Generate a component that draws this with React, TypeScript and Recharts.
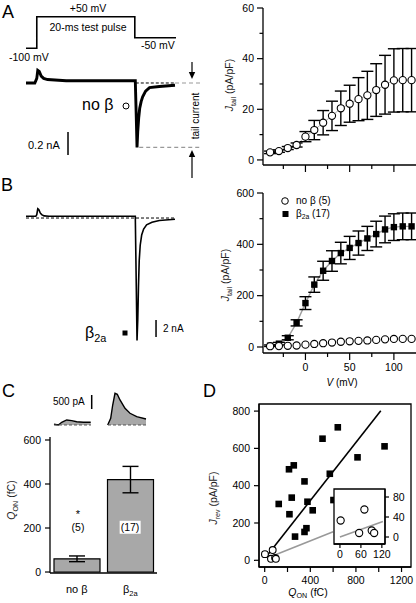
import React from "react";
import {
  ComposedChart,
  BarChart,
  Bar,
  Line,
  Area,
  Scatter,
  XAxis,
  YAxis,
  ErrorBar,
  ReferenceLine,
  ReferenceArea,
} from "recharts";

const FONT = "'Liberation Sans', Arial, Helvetica, sans-serif";

// A / B right: tail current density vs test potential
const voltages = [-40, -30, -20, -10, 0, 10, 20, 30, 40, 50, 60, 70, 80, 90, 100, 110, 120];
const noBetaJ = [3.0, 3.5, 4.7, 5.9, 9.2, 11.8, 14.7, 17.4, 20.4, 22.2, 24.0, 25.5, 27.6, 29.7, 31.4, 31.5, 31.5];
const noBetaErr = [0.5, 0.5, 0.6, 0.8, 2.0, 3.8, 4.8, 5.8, 6.8, 7.3, 8.5, 9.5, 10.4, 11.6, 12.5, 12.5, 12.5];
const b2aJ = [5, 13, 36, 94, 171, 243, 297, 335, 366, 386, 405, 423, 440, 458, 467, 470, 470];
const b2aErr = [3, 5, 8, 12, 25, 30, 37, 40, 42, 45, 47, 47, 50, 52, 52, 52, 52];

// A / B left: voltage protocol (ms, mV) and example currents (ms, nA)
const protocolT = [-2.2, 0, 20, 28.4];
const protocolV = [-100, 50, -50, -50];
const traceAT = [-2.2, -0.4, 0, 0.2, 0.5, 0.9, 1.4, 2.2, 6, 12, 17, 20.1, 20.3, 20.45, 20.6, 20.8, 21.0, 21.3, 21.6, 22.2, 23.0, 25.0, 28.2];
const traceAI = [0, 0, 0.04, 0.11, 0.1, 0.06, 0.04, 0.03, 0.02, 0.02, 0.02, 0.02, -0.3, -0.56, -0.42, -0.3, -0.22, -0.16, -0.12, -0.07, -0.04, -0.03, -0.02];
const traceBT = [-2.2, -0.2, 0, 0.2, 0.4, 0.7, 1.0, 1.5, 2.5, 10, 20.1, 20.3, 20.45, 20.6, 20.75, 20.9, 21.1, 21.4, 21.8, 22.4, 23.5, 25, 28.2];
const traceBI = [0.2, 0.2, 0.4, 1.1, 1.0, 0.6, 0.4, 0.25, 0.2, 0.2, 0.2, -8, -14.4, -12, -8, -5, -3.2, -2.0, -1.3, -0.8, -0.5, -0.3, -0.15];

// C: gating charge
const groups = ["noB", "b2a"];
const qonMean = [60, 420];
const qonSem = [13, 60];
const gateNoBetaT = [0.4, 0.83, 1.17, 1.67, 2.17, 2.67, 3.33, 4.07];
const gateNoBetaI = [25, 0, 96, 179, 154, 118, 96, 96];
const gateB2aT = [5.77, 6.07, 6.27, 6.5, 6.73, 7.0, 7.5, 8.0, 8.67, 9.6];
const gateB2aI = [0, 239, 714, 1131, 1096, 893, 596, 418, 296, 214];

// D: Jrev vs Qon
const qonB2a = [123, 213, 255, 237, 217, 266, 349, 375, 421, 366, 349, 507, 571, 641, 814, 1051, 603];
const jrevB2a = [302, 488, 509, 336, 247, 127, 423, 314, 268, 172, 152, 652, 464, 713, 552, 611, 323];
const qonNoBeta = [2, 70, 55, 91, 98];
const jrevNoBeta = [33, 55, 8, 13, 8];
const fitB2aX = [15, 1018];
const fitB2aY = [20, 802];
const fitNoBetaX = [40, 600];
const fitNoBetaY = [16, 153];
const insetFitX = [0, 123];
const insetFitY = [0, 31];

const zip = (xs: number[], ys: number[], errs?: number[]) =>
  xs.map((x, i) => ({ x, y: ys[i], err: errs ? errs[i] : 0 }));

const AX = { stroke: "#000", strokeWidth: 1.3 };
const tickText = { fontSize: 10.5, fontFamily: FONT, fill: "#000" };

function leftTicks(axis: number, majors: number[], len = 6, minor = 3.5, gap = 3) {
  return (p: any) => {
    const v = p.payload.value;
    const m = majors.includes(v);
    return (
      <g>
        <line x1={axis - (m ? len : minor)} x2={axis} y1={p.y} y2={p.y} stroke="#000" strokeWidth={1.2} />
        {m && (
          <text x={axis - len - gap} y={p.y} dy="0.35em" textAnchor="end" {...tickText}>
            {v}
          </text>
        )}
      </g>
    );
  };
}

function rightTicks(axis: number, len = 4, gap = 4) {
  return (p: any) => (
    <g>
      <line x1={axis} x2={axis + len} y1={p.y} y2={p.y} stroke="#000" strokeWidth={1.2} />
      <text x={axis + len + gap} y={p.y} dy="0.35em" textAnchor="start" {...tickText}>
        {p.payload.value}
      </text>
    </g>
  );
}

function bottomTicks(axis: number, majors: number[], labels: boolean, len = 7, minor = 4, gap = 5) {
  return (p: any) => {
    const v = p.payload.value;
    const m = majors.includes(v);
    return (
      <g>
        <line x1={p.x} x2={p.x} y1={axis} y2={axis + (m ? len : minor)} stroke="#000" strokeWidth={1.2} />
        {labels && m && (
          <text x={p.x} y={axis + len + gap - 1} dy="0.71em" textAnchor="middle" {...tickText}>
            {v}
          </text>
        )}
      </g>
    );
  };
}

const openCircle = (r: number) => (p: any) =>
  <circle cx={p.cx} cy={p.cy} r={r} fill="#fff" stroke="#000" strokeWidth={1.1} />;
const filledSquare = (s: number) => (p: any) =>
  <rect x={p.cx - s / 2} y={p.cy - s / 2} width={s} height={s} fill="#000" />;

const Sub = ({ children }: any) => (
  <span style={{ fontSize: "0.68em", position: "relative", top: "0.35em" }}>{children}</span>
);

const Txt = ({ x, y, size = 10.5, anchor = "start", children, style }: any) => {
  const tx = anchor === "middle" ? "-50%" : anchor === "end" ? "-100%" : "0";
  return (
    <div
      style={{
        position: "absolute",
        left: x,
        top: y,
        fontSize: size,
        lineHeight: 1,
        whiteSpace: "nowrap",
        transform: `translate(${tx},-50%)`,
        ...style,
      }}
    >
      {children}
    </div>
  );
};

// rotated axis title (svg text) centred on (x, y)
const VLabel = ({ x, y, main, sub, rest, size = 10.5, color = "#222", italic = true }: any) => (
  <text
    x={x}
    y={y}
    transform={`rotate(-90 ${x} ${y})`}
    textAnchor="middle"
    dy="0.35em"
    fontSize={size}
    fontFamily={FONT}
    fill={color}
  >
    <tspan fontStyle={italic ? "italic" : "normal"}>{main}</tspan>
    {sub && (
      <tspan fontSize={size * 0.68} dy={size * 0.3}>
        {sub}
      </tspan>
    )}
    {rest && <tspan dy={sub ? -size * 0.3 : 0}>{rest}</tspan>}
  </text>
);

const Box = ({ x, y, children }: any) => (
  <div style={{ position: "absolute", left: x, top: y }}>{children}</div>
);

function IVPanel({ height, xAxisH, yDomain, yTicks, yMajors, labels, children }: any) {
  const axisY = height - xAxisH;
  return (
    <ComposedChart width={193} height={height} margin={{ top: 10, right: 0, bottom: 0, left: 0 }}>
      <XAxis
        type="number"
        dataKey="x"
        domain={[-48, 125]}
        allowDataOverflow
        ticks={[-25, 0, 25, 50, 75, 100]}
        interval={0}
        height={xAxisH}
        axisLine={AX}
        tickLine={false}
        tick={bottomTicks(axisY, [0, 50, 100], labels)}
      />
      <YAxis
        type="number"
        domain={yDomain}
        allowDataOverflow
        ticks={yTicks}
        interval={0}
        width={40}
        axisLine={AX}
        tickLine={false}
        tick={leftTicks(40, yMajors)}
      />
      {children}
    </ComposedChart>
  );
}

const noBetaRows = zip(voltages, noBetaJ, noBetaErr);
const b2aRows = zip(voltages, b2aJ, b2aErr);

export default function App() {
  const barRows = groups.map((k, i) => ({ k, q: qonMean[i], err: qonSem[i] }));
  const catTick = (p: any) => (
    <text x={p.x} y={146 + 12} dy="0.71em" textAnchor="middle" fontSize={11} fontFamily={FONT} fill="#000">
      {p.payload.value === "noB" ? (
        "no β"
      ) : (
        <>
          β<tspan fontSize={7.5} dy={3}>2a</tspan>
        </>
      )}
    </text>
  );

  return (
    <div
      style={{
        position: "absolute",
        left: 0,
        top: 0,
        width: 416,
        height: 603,
        background: "#fff",
        fontFamily: FONT,
        color: "#000",
        overflow: "hidden",
      }}
    >
      {/* panel letters */}
      <Txt x={2} y={12} size={18}>A</Txt>
      <Txt x={1} y={185} size={18}>B</Txt>
      <Txt x={2} y={391} size={18}>C</Txt>
      <Txt x={203} y={391} size={18}>D</Txt>

      {/* A left: protocol */}
      <Box x={26} y={10}>
        <ComposedChart width={174} height={45} margin={{ top: 0, right: 0, bottom: 0, left: 0 }}>
          <XAxis type="number" dataKey="x" domain={[-2.2, 33.3]} allowDataOverflow hide />
          <YAxis type="number" domain={[-131.8, 81.8]} allowDataOverflow hide />
          <Line
            data={zip(protocolT, protocolV)}
            dataKey="y"
            type="stepAfter"
            stroke="#000"
            strokeWidth={1.6}
            dot={false}
            isAnimationActive={false}
          />
        </ComposedChart>
      </Box>
      <Txt x={88} y={8} anchor="middle">+50 mV</Txt>
      <Txt x={88} y={27} anchor="middle">20-ms test pulse</Txt>
      <Txt x={9} y={57}>-100 mV</Txt>
      <Txt x={141} y={45}>-50 mV</Txt>

      {/* A left: current trace */}
      <Box x={26} y={60}>
        <ComposedChart width={174} height={100} margin={{ top: 0, right: 0, bottom: 0, left: 0 }}>
          <XAxis type="number" dataKey="x" domain={[-2.2, 33.3]} allowDataOverflow hide />
          <YAxis type="number" domain={[-0.6696, 0.2]} allowDataOverflow hide />
          <ReferenceLine segment={[{ x: 20.2, y: 0 }, { x: 28.2, y: 0 }]} stroke="#000" strokeDasharray="3 2" />
          <ReferenceLine segment={[{ x: 28.2, y: 0 }, { x: 33.3, y: 0 }]} stroke="#999" strokeWidth={1.2} strokeDasharray="4 3" />
          <ReferenceLine segment={[{ x: 20.9, y: -0.56 }, { x: 33.3, y: -0.56 }]} stroke="#999" strokeWidth={1.2} strokeDasharray="4 3" />
          <ReferenceLine segment={[{ x: 6.37, y: -0.426 }, { x: 6.37, y: -0.626 }]} stroke="#000" strokeWidth={1.5} />
          <Line
            data={zip(traceAT, traceAI)}
            dataKey="y"
            type="linear"
            stroke="#000"
            strokeWidth={2.9}
            dot={false}
            isAnimationActive={false}
          />
        </ComposedChart>
      </Box>
      <Txt x={82} y={105} size={16}>no β</Txt>
      <Txt x={28} y={145} size={11}>0.2 nA</Txt>

      {/* B left: current trace */}
      <Box x={26} y={200}>
        <ComposedChart width={174} height={145} margin={{ top: 0, right: 0, bottom: 0, left: 0 }}>
          <XAxis type="number" dataKey="x" domain={[-2.2, 33.3]} allowDataOverflow hide />
          <YAxis type="number" domain={[-14.94, 2.12]} allowDataOverflow hide />
          <ReferenceLine segment={[{ x: -2.2, y: 0 }, { x: 28.2, y: 0 }]} stroke="#000" strokeDasharray="3 2" />
          <ReferenceLine segment={[{ x: 24.33, y: -12 }, { x: 24.33, y: -14 }]} stroke="#000" strokeWidth={1.5} />
          <Line
            data={zip(traceBT, traceBI)}
            dataKey="y"
            type="linear"
            stroke="#000"
            strokeWidth={1.6}
            dot={false}
            isAnimationActive={false}
          />
        </ComposedChart>
      </Box>
      <Txt x={85} y={333} size={16}>
        β<Sub>2a</Sub>
      </Txt>
      <Txt x={163} y={329} size={10}>2 nA</Txt>

      {/* A right */}
      <Box x={223} y={-2}>
        <IVPanel
          height={187}
          xAxisH={20}
          yDomain={[-2, 60]}
          yTicks={[0, 10, 20, 30, 40, 50, 60]}
          yMajors={[0, 20, 40, 60]}
          labels={false}
        >
          <Line data={noBetaRows} dataKey="y" stroke="#b0b0b0" strokeWidth={1} dot={false} isAnimationActive={false} />
          <Scatter data={noBetaRows} dataKey="y" shape={openCircle(3.6)} isAnimationActive={false}>
            <ErrorBar dataKey="err" direction="y" width={6} stroke="#000" strokeWidth={1.4} />
          </Scatter>
        </IVPanel>
      </Box>

      {/* B right */}
      <Box x={223} y={183}>
        <IVPanel
          height={210}
          xAxisH={40}
          yDomain={[-23.4, 600]}
          yTicks={[0, 100, 200, 300, 400, 500, 600]}
          yMajors={[0, 200, 400, 600]}
          labels={true}
        >
          <Line data={b2aRows} dataKey="y" stroke="#a0a0a0" strokeWidth={1.4} dot={false} isAnimationActive={false} />
          <Scatter data={b2aRows} dataKey="y" shape={filledSquare(6.4)} isAnimationActive={false}>
            <ErrorBar dataKey="err" direction="y" width={6} stroke="#000" strokeWidth={1.4} />
          </Scatter>
          <Scatter data={noBetaRows} dataKey="y" shape={openCircle(3.6)} isAnimationActive={false} />
        </IVPanel>
      </Box>
      <Txt x={296} y={201} size={10}>no β (5)</Txt>
      <Txt x={296} y={214} size={10}>
        β<Sub>2a</Sub> (17)
      </Txt>
      <Txt x={342} y={383} size={10} anchor="middle">
        <i>V</i> (mV)
      </Txt>

      {/* C: gating current traces */}
      <Box x={50} y={388}>
        <ComposedChart width={100} height={42} margin={{ top: 0, right: 0, bottom: 0, left: 0 }}>
          <XAxis type="number" dataKey="x" domain={[0, 10]} allowDataOverflow hide />
          <YAxis type="number" domain={[-179, 1321]} allowDataOverflow hide />
          <Area
            data={zip(gateNoBetaT, gateNoBetaI)}
            dataKey="y"
            type="linear"
            baseValue={0}
            fill="#a8a8a8"
            fillOpacity={1}
            stroke="#000"
            strokeWidth={1.4}
            isAnimationActive={false}
          />
          <Area
            data={zip(gateB2aT, gateB2aI)}
            dataKey="y"
            type="linear"
            baseValue={0}
            fill="#a8a8a8"
            fillOpacity={1}
            stroke="#000"
            strokeWidth={1.4}
            isAnimationActive={false}
          />
          <ReferenceLine segment={[{ x: 0.4, y: 0 }, { x: 4.1, y: 0 }]} stroke="#555" strokeDasharray="3 2" />
          <ReferenceLine segment={[{ x: 5.8, y: 0 }, { x: 9.6, y: 0 }]} stroke="#555" strokeDasharray="3 2" />
          <ReferenceLine segment={[{ x: 4.17, y: 571 }, { x: 4.17, y: 1071 }]} stroke="#000" strokeWidth={1.5} />
        </ComposedChart>
      </Box>
      <Txt x={53} y={402} size={10}>500 pA</Txt>

      {/* C: bar chart */}
      <Box x={10} y={427}>
        <BarChart width={152} height={172} data={barRows} margin={{ top: 10, right: 5, bottom: 0, left: 0 }} barSize={46}>
          <XAxis dataKey="k" height={26} interval={0} tickLine={false} axisLine={AX} tick={catTick} />
          <XAxis xAxisId="top" dataKey="k" orientation="top" height={0} tick={false} tickLine={false} axisLine={AX} />
          <YAxis
            type="number"
            domain={[-4.5, 613.6]}
            allowDataOverflow
            ticks={[0, 200, 400, 600]}
            interval={0}
            width={40}
            tickLine={false}
            axisLine={AX}
            tick={leftTicks(40, [0, 200, 400, 600], 5, 5, 4)}
          />
          <YAxis yAxisId="right" orientation="right" type="number" domain={[0, 1]} width={0} tick={false} tickLine={false} axisLine={AX} />
          <Bar dataKey="q" fill="#a8a8a8" stroke="#000" strokeWidth={1.2} isAnimationActive={false}>
            <ErrorBar dataKey="err" direction="y" width={8} stroke="#000" strokeWidth={1.4} />
          </Bar>
        </BarChart>
      </Box>
      <Txt x={78} y={514} size={11} anchor="middle">*</Txt>
      <Txt x={78} y={527} size={10.5} anchor="middle">(5)</Txt>
      <Txt x={130} y={527} size={10.5} anchor="middle" style={{ background: "#fff", padding: "1px 1px" }}>
        (17)
      </Txt>

      {/* D main */}
      <Box x={214} y={394}>
        <ComposedChart width={202} height={209} margin={{ top: 10, right: 5, bottom: 0, left: 0 }}>
          <XAxis
            type="number"
            dataKey="x"
            domain={[-50, 1283]}
            allowDataOverflow
            ticks={[0, 200, 400, 600, 800, 1000, 1200]}
            interval={0}
            height={36}
            tickLine={false}
            axisLine={AX}
            tick={bottomTicks(173, [0, 400, 800, 1200], true, 5, 5, 6)}
          />
          <YAxis
            type="number"
            domain={[-36, 838]}
            allowDataOverflow
            ticks={[0, 200, 400, 600, 800]}
            interval={0}
            width={45}
            tickLine={false}
            axisLine={AX}
            tick={leftTicks(45, [0, 200, 400, 600, 800], 5, 5, 4)}
          />
          <ReferenceArea x1={-50} x2={1283} y1={-36} y2={838} fill="none" stroke="#000" strokeWidth={1.3} />
          <Line data={zip(fitNoBetaX, fitNoBetaY)} dataKey="y" stroke="#999" strokeWidth={1.6} dot={false} isAnimationActive={false} />
          <Line data={zip(fitB2aX, fitB2aY)} dataKey="y" stroke="#000" strokeWidth={1.6} dot={false} isAnimationActive={false} />
          <Scatter data={zip(qonB2a, jrevB2a)} dataKey="y" shape={filledSquare(6.6)} isAnimationActive={false} />
          <Scatter data={zip(qonNoBeta, jrevNoBeta)} dataKey="y" shape={openCircle(3.4)} isAnimationActive={false} />
        </ComposedChart>
      </Box>
      <Txt x={308} y={593} size={10.5} anchor="middle">
        <i>Q</i>
        <Sub>ON</Sub> (fC)
      </Txt>

      {/* D inset */}
      <Box x={332} y={487}>
        <ComposedChart width={77} height={77} margin={{ top: 2, right: 0, bottom: 0, left: 2 }}>
          <XAxis
            type="number"
            dataKey="x"
            domain={[-17, 129]}
            allowDataOverflow
            ticks={[0, 60, 120]}
            interval={0}
            height={20}
            tickLine={false}
            axisLine={AX}
            tick={bottomTicks(57, [0, 60, 120], true, 4, 4, 4)}
          />
          <YAxis
            type="number"
            orientation="right"
            domain={[-14, 96]}
            allowDataOverflow
            ticks={[0, 40, 80]}
            interval={0}
            width={24}
            tickLine={false}
            axisLine={AX}
            tick={rightTicks(53)}
          />
          <ReferenceArea x1={-17} x2={129} y1={-14} y2={96} fill="#fff" fillOpacity={1} stroke="#000" strokeWidth={1.3} />
          <Line data={zip(insetFitX, insetFitY)} dataKey="y" stroke="#999" strokeWidth={1.6} dot={false} isAnimationActive={false} />
          <Scatter data={zip(qonNoBeta, jrevNoBeta)} dataKey="y" shape={openCircle(3.6)} isAnimationActive={false} />
        </ComposedChart>
      </Box>

      {/* arrows, legend symbols, rotated titles */}
      <svg width={416} height={603} style={{ position: "absolute", left: 0, top: 0, pointerEvents: "none" }}>
        <line x1={192} y1={62} x2={192} y2={74} stroke="#000" strokeWidth={1.2} />
        <polygon points="188.8,72 195.2,72 192,79" fill="#000" />
        <line x1={192} y1={156} x2={192} y2={178} stroke="#000" strokeWidth={1.2} />
        <polygon points="188.8,157 195.2,157 192,150" fill="#000" />
        <circle cx={126} cy={106} r={3} fill="#fff" stroke="#000" strokeWidth={1} />
        <rect x={122.5} y={330.5} width={5} height={5} fill="#000" />
        <circle cx={285} cy={201} r={3.3} fill="#fff" stroke="#000" strokeWidth={1} />
        <rect x={282.5} y={211} width={6} height={6} fill="#000" />
        <VLabel x={195} y={116} main="tail current" size={10} color="#000" italic={false} />
        <VLabel x={229} y={85} main="J" sub="tail" rest=" (pA/pF)" />
        <VLabel x={225} y={275} main="J" sub="tail" rest=" (pA/pF)" />
        <VLabel x={11} y={500} main="Q" sub="ON" rest=" (fC)" />
        <VLabel x={213} y={498} main="J" sub="rev" rest=" (pA/pF)" />
      </svg>
    </div>
  );
}
